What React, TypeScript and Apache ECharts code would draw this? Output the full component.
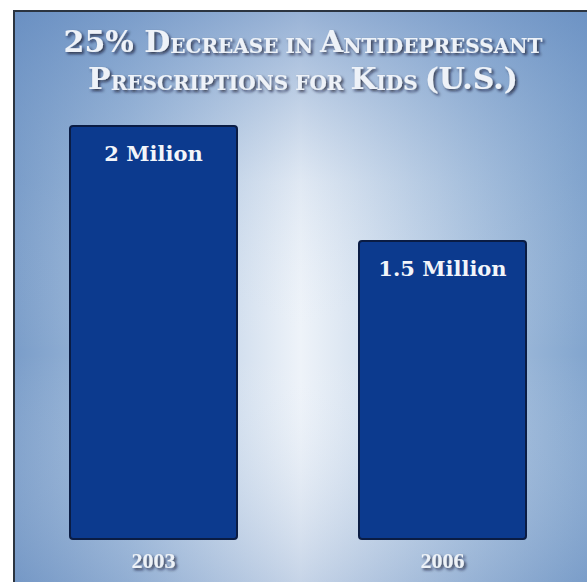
import React, { useEffect, useRef } from 'react';
import * as echarts from 'echarts';

const categories = ['2003', '2006'];
const values = [2, 1.5];
const barLabels = ['2 Milion', '1.5 Million'];
const titleText =
  '{b|25% D}{s|ECREASE IN }{b|A}{s|NTIDEPRESSANT}\n{b|P}{s|RESCRIPTIONS FOR }{b|K}{s|IDS }{b|(U.S.)}';

export default function App() {
  const ref = useRef<HTMLDivElement>(null);
  useEffect(() => {
    if (!ref.current) return;
    const chart = echarts.init(ref.current, null, { renderer: 'svg' });
    const shadow = {
      textShadowColor: 'rgba(20,25,40,0.75)',
      textShadowBlur: 3,
      textShadowOffsetX: 2,
      textShadowOffsetY: 2,
    };
    chart.setOption({
      animation: false,
      backgroundColor: '#ffffff',
      graphic: [
        {
          type: 'rect',
          z: 0,
          silent: true,
          shape: { x: 14, y: 11, width: 573, height: 571 },
          style: {
            fill: new echarts.graphic.LinearGradient(0, 0, 1, 0, [
              { offset: 0, color: '#7a9dc9' },
              { offset: 0.2, color: '#a3bddc' },
              { offset: 0.5, color: '#eef3f9' },
              { offset: 0.8, color: '#abc3df' },
              { offset: 1, color: '#82a5ce' },
            ]),
          },
        },
        {
          type: 'rect',
          z: 0,
          silent: true,
          shape: { x: 14, y: 11, width: 573, height: 571 },
          style: {
            fill: new echarts.graphic.LinearGradient(0, 0, 0, 1, [
              { offset: 0, color: 'rgba(95,135,190,0.6)' },
              { offset: 0.3, color: 'rgba(120,155,200,0.12)' },
              { offset: 0.6, color: 'rgba(255,255,255,0)' },
              { offset: 1, color: 'rgba(105,140,190,0.3)' },
            ]),
          },
        },
        {
          type: 'polyline',
          z: 1,
          silent: true,
          shape: { points: [[14, 582], [14, 11], [587, 11]] },
          style: { stroke: '#2b3440', lineWidth: 2, fill: 'none' },
        },
      ],
      title: {
        text: titleText,
        left: 303,
        top: 19,
        padding: 0,
        textAlign: 'center',
        textStyle: {
          color: '#eef2f8',
          fontFamily: 'DejaVu Serif',
          fontWeight: 'bold',
          rich: {
            b: {
              fontFamily: 'DejaVu Serif',
              fontWeight: 'bold',
              fontSize: 30,
              lineHeight: 37,
              color: '#eef2f8',
              verticalAlign: 'bottom',
              align: 'center',
              ...shadow,
            },
            s: {
              fontFamily: 'DejaVu Serif',
              fontWeight: 'bold',
              fontSize: 20,
              lineHeight: 30,
              color: '#eef2f8',
              verticalAlign: 'bottom',
              align: 'center',
              ...shadow,
            },
          },
        },
      },
      grid: { left: 9, width: 582, top: 125, bottom: 43, containLabel: false },
      xAxis: {
        type: 'category',
        data: categories,
        axisLine: { show: false },
        axisTick: { show: false },
        axisLabel: {
          margin: 10,
          color: '#eef2f7',
          fontFamily: 'Liberation Serif',
          fontWeight: 'bold',
          fontSize: 22,
          ...shadow,
        },
      },
      yAxis: {
        type: 'value',
        min: 0.2,
        max: 2,
        show: false,
        splitLine: { show: false },
      },
      series: [
        {
          type: 'bar',
          barWidth: 169,
          data: values.map((v, i) => ({ value: v, label: { formatter: barLabels[i] } })),
          itemStyle: {
            color: '#0c3a8e',
            borderColor: '#0a1c44',
            borderWidth: 2,
            borderRadius: 3,
          },
          label: {
            show: true,
            position: 'insideTop',
            distance: 18,
            color: '#f2f5fa',
            fontFamily: 'DejaVu Serif',
            fontWeight: 'bold',
            fontSize: 21,
          },
        },
      ],
    });
    return () => chart.dispose();
  }, []);
  return (
    <div
      ref={ref}
      style={{ position: 'fixed', left: 0, top: 0, width: 587, height: 582 }}
    />
  );
}
